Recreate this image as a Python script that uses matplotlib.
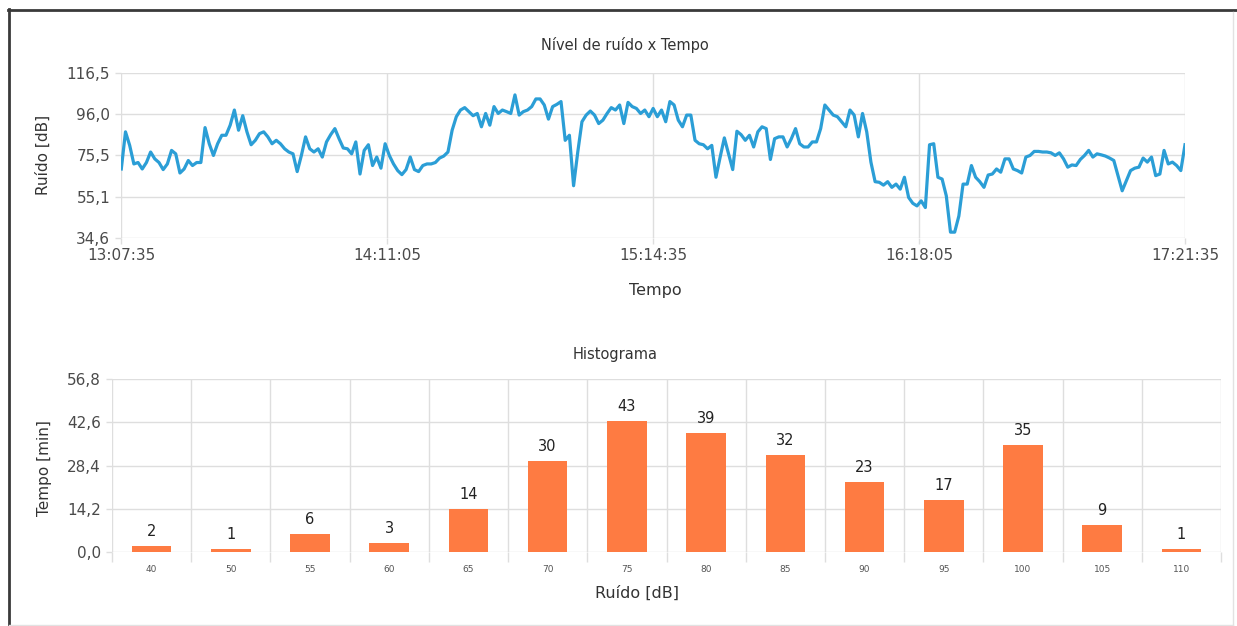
import matplotlib
matplotlib.use('Agg')
import matplotlib.pyplot as plt
import pandas as pd
from matplotlib.lines import Line2D

plt.rcParams['font.family'] = ['DejaVu Sans']

# ---------------- data ----------------
start_time = "2020-01-01 13:07:35"
noise_db = [
    68.8, 87.2, 80.5, 71.3, 72, 68.8, 72, 77.2, 73.8, 72, 68.5, 71.3, 78, 76.3, 66.8, 68.8,
    73, 70.5, 72, 72, 89.3, 81.3, 75.5, 81.3, 85.5, 85.5, 90.5, 98, 88, 95.2, 87.2, 80.8,
    83, 86.3, 87.2, 84.7, 81.3, 83, 81.3, 78.8, 77.2, 76.3,
    67.5, 75.5, 84.7, 78.8, 77.2, 78.8, 74.7, 82.2, 85.8, 88.8, 83.8, 79.2, 78.8, 76.3, 82.2,
    66.3, 78, 80.8, 70.5, 74.7, 69.2, 81.3, 75.5, 71.3, 68, 66, 68.5, 74.7, 68.5, 67.5, 70.5,
    71.3, 71.3, 72, 74.2, 75.2, 77.2, 88, 94.7, 98, 99.2, 97.2, 95.2,
    96.3, 89.7, 96.3, 90.5, 99.7, 96.3, 98, 97.2, 96.3, 105.5, 95.5, 97.2, 98, 99.7, 103.5,
    103.5, 100.5, 93.5, 99.7, 100.8, 102.2, 83, 85.5, 60.5, 77.2, 92.2, 95.5, 97.5, 95.5, 91.3,
    93, 96.3, 99.2, 98, 100.5, 91.3, 101.8, 99.7, 98.8, 96.3, 98, 94.7, 98.8,
    94.7, 98, 92.2, 102.2, 100.5, 93, 89.7, 95.5, 95.5, 83, 81.3, 80.8, 78.8, 80.5, 64.7,
    74.7, 84.2, 76.3, 68.5, 87.5, 85.8, 83, 85.5, 79.7, 87.2, 89.7, 88.8, 73.5, 83.8, 84.7,
    84.7, 79.7, 83.8, 88.8, 81.3, 79.7, 79.7, 82.2, 82.2, 88.8, 100.5, 98, 95.5,
    94.7, 92.2, 89.7, 98, 95.5, 84.7, 96.3, 87.2, 72.2, 62.5, 62.2, 60.8, 62.5, 59.7, 61.3,
    58.8, 64.7, 54.7, 51.8, 50.5, 53, 49.7, 80.8, 81.3, 64.7, 63.8, 55.5, 37.5, 37.5, 45.5,
    61.3, 61.3, 70.5, 64.7, 62.5, 59.7, 65.8, 66.3, 68.8, 67.2, 73.8, 73.8,
    68.8, 68, 66.8, 74.7, 75.5, 77.5, 77.5, 77.2, 77.2, 76.8, 75.5, 76.8, 73.8, 69.7, 70.8,
    70.5, 73.5, 75.5, 78, 74.7, 76.3, 75.8, 75.2, 74.2, 73, 65.5, 58, 63, 68, 69.2,
    69.7, 74.2, 72.2, 74.7, 65.5, 66.3, 78, 71.3, 72.2, 70.5, 68, 80.8,
]
time_ticks = ["13:07:35", "14:11:05", "15:14:35", "16:18:05", "17:21:35"]
noise_yticks = [34.6, 55.1, 75.5, 96.0, 116.5]

hist_bins = ["40", "50", "55", "60", "65", "70", "75", "80", "85", "90", "95", "100", "105", "110"]
hist_minutes = [2, 1, 6, 3, 14, 30, 43, 39, 32, 23, 17, 35, 9, 1]
hist_yticks = [0.0, 14.2, 28.4, 42.6, 56.8]

# ---------------- styling ----------------
LINE_C = '#2b9ed6'
BAR_C = '#fe7b42'
GRID_C = '#dedede'
TICK_C = '#4a4a4a'
TEXT_C = '#333333'


def comma(v):
    return f"{v:.1f}".replace('.', ',')


W, H = 1237, 626
fig = plt.figure(figsize=(W / 100, H / 100), dpi=100)
fig.patch.set_facecolor('white')


def ax_px(l, t, r, b):
    return fig.add_axes([l / W, 1 - b / H, (r - l) / W, (b - t) / H])


# ---------------- line chart ----------------
times = pd.date_range(start_time, periods=len(noise_db), freq='1min')
tick_times = [pd.Timestamp("2020-01-01 " + t) for t in time_ticks]

ax1 = ax_px(121.3, 72.7, 1185, 238)
ax1.plot(times, noise_db, color=LINE_C, lw=2.3, solid_joinstyle='round', zorder=3)
ax1.set_xlim(tick_times[0], tick_times[-1])
ax1.set_ylim(noise_yticks[0], noise_yticks[-1])
ax1.set_xticks(tick_times)
ax1.set_xticklabels(time_ticks)
ax1.set_yticks(noise_yticks)
ax1.set_yticklabels([comma(v) for v in noise_yticks])
ax1.grid(True, color=GRID_C, lw=1.0, zorder=0)
for s in ax1.spines.values():
    s.set_visible(False)
ax1.tick_params(axis='both', colors=GRID_C, labelcolor=TICK_C, labelsize=11, length=4, width=1)
ax1.tick_params(axis='x', pad=3)
ax1.tick_params(axis='y', pad=4)
ax1.set_axisbelow(True)

# ---------------- histogram ----------------
ax2 = ax_px(112, 379, 1221, 552)
xpos = list(range(len(hist_bins)))
ax2.bar(xpos, hist_minutes, width=0.5, color=BAR_C, zorder=3)
ax2.set_xlim(-0.5, len(hist_bins) - 0.5)
ax2.set_ylim(hist_yticks[0], hist_yticks[-1])
ax2.set_xticks(xpos)
ax2.set_xticklabels(hist_bins)
ax2.set_xticks([i + 0.5 for i in range(-1, len(hist_bins))], minor=True)
ax2.set_yticks(hist_yticks)
ax2.set_yticklabels([comma(v) for v in hist_yticks])
ax2.grid(True, which='minor', axis='x', color=GRID_C, lw=1.0, zorder=0)
ax2.grid(True, which='major', axis='y', color=GRID_C, lw=1.0, zorder=0)
for s in ax2.spines.values():
    s.set_visible(False)
ax2.tick_params(axis='x', which='major', length=0, labelsize=6.5, labelcolor='#555555', pad=9)
ax2.tick_params(axis='x', which='minor', length=7, color=GRID_C, width=1)
ax2.tick_params(axis='y', colors=GRID_C, labelcolor=TICK_C, labelsize=11, length=4, width=1, pad=4)
ax2.set_axisbelow(True)
for x, v in zip(xpos, hist_minutes):
    ax2.annotate(str(v), (x, v), xytext=(0, 5), textcoords='offset points',
                 ha='center', va='bottom', fontsize=10.5, color='#222222')

# ---------------- texts ----------------
fig.text(625 / W, 1 - 45 / H, "Nível de ruído x Tempo", ha='center', va='center', fontsize=10.5, color=TEXT_C)
fig.text(655 / W, 1 - 291 / H, "Tempo", ha='center', va='center', fontsize=11.5, color=TEXT_C)
fig.text(43 / W, 1 - 155 / H, "Ruído [dB]", ha='center', va='center', rotation=90, fontsize=11, color=TEXT_C)
fig.text(615 / W, 1 - 355 / H, "Histograma", ha='center', va='center', fontsize=10.5, color=TEXT_C)
fig.text(637 / W, 1 - 593 / H, "Ruído [dB]", ha='center', va='center', fontsize=11.5, color=TEXT_C)
fig.text(45 / W, 1 - 468 / H, "Tempo [min]", ha='center', va='center', rotation=90, fontsize=11, color=TEXT_C)

# ---------------- outer frame ----------------
def fline(x0, y0, x1, y1, c, lw):
    fig.add_artist(Line2D([x0 / W, x1 / W], [1 - y0 / H, 1 - y1 / H], color=c, lw=lw,
                          transform=fig.transFigure))

fline(8, 9.5, 1237, 9.5, '#3a3a3a', 2)
fline(8.5, 9, 8.5, 626, '#3a3a3a', 2)
fline(1233, 12, 1233, 625, '#e2e2e2', 1)
fline(9, 624.5, 1233, 624.5, '#e2e2e2', 1)

fig.savefig('out.png', dpi=100, facecolor='white')
